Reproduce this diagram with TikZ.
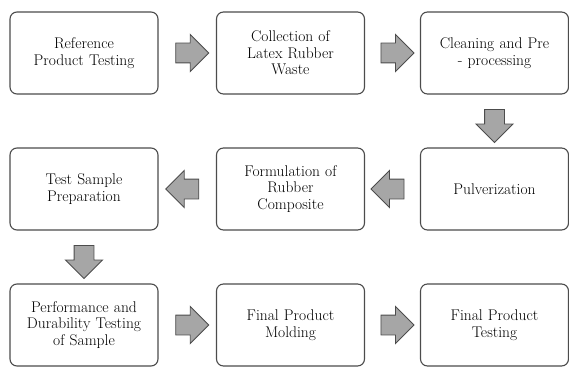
\documentclass[tikz,border=0pt]{standalone}
\usetikzlibrary{positioning,calc,shapes.arrows}
\tikzset{
  stepbox/.style = {draw=black!70, line width=1.1pt, fill=white, rounded corners=7pt,
                    minimum width=148pt, minimum height=82pt, inner sep=2pt,
                    text width=144pt, align=center, text=black,
                    font=\fontsize{15.5}{16.5}\selectfont},
  barrow/.style  = {single arrow, draw=black!70, line width=0.9pt, fill=black!35,
                    minimum height=33pt, inner xsep=0pt, inner ysep=9.5pt,
                    single arrow head extend=8.5pt, single arrow tip angle=90},
  rarrow/.style  = {barrow},
  larrow/.style  = {barrow, shape border rotate=180},
  darrow/.style  = {barrow, shape border rotate=270, inner xsep=9.5pt, inner ysep=0pt},
}
\begin{document}
\begin{tikzpicture}[x=1pt,y=1pt]
  \useasboundingbox (0,0) rectangle (569,367);
  % first row
  \node[stepbox] (ref)   at (84,314)    {Reference\\Product Testing};
  \node[stepbox] (coll)  at (290.5,314) {Collection of\\Latex Rubber\\Waste};
  \node[stepbox] (clean) at (494.5,314) {Cleaning and Pre\\- processing};
  % second row
  \node[stepbox] (prep)  at (84,178)    {Test Sample\\Preparation};
  \node[stepbox] (form)  at (290.5,178) {Formulation of\\Rubber\\Composite};
  \node[stepbox] (pulv)  at (494.5,178) {Pulverization};
  % third row
  \node[stepbox] (perf)  at (84,42)     {Performance and\\Durability Testing\\of Sample};
  \node[stepbox] (mold)  at (290.5,42)  {Final Product\\Molding};
  \node[stepbox] (final) at (494.5,42)  {Final Product\\Testing};
  % block arrows
  \node[rarrow] at ($(ref.east)!0.5!(coll.west)$) {};
  \node[rarrow] at ($(coll.east)!0.5!(clean.west)$) {};
  \node[darrow] at ($(clean.south)!0.5!(pulv.north)$) {};
  \node[larrow] at ($(pulv.west)!0.5!(form.east)$) {};
  \node[larrow] at ($(form.west)!0.5!(prep.east)$) {};
  \node[darrow] at ($(prep.south)!0.5!(perf.north)$) {};
  \node[rarrow] at ($(perf.east)!0.5!(mold.west)$) {};
  \node[rarrow] at ($(mold.east)!0.5!(final.west)$) {};
\end{tikzpicture}
\end{document}
